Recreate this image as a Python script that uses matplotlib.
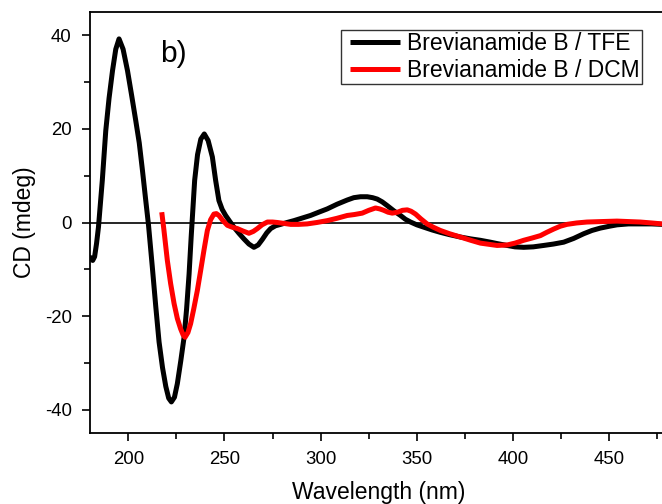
import numpy as np
import matplotlib
matplotlib.use('Agg')
import matplotlib.pyplot as plt
from matplotlib.ticker import MultipleLocator
from matplotlib.lines import Line2D
from matplotlib.legend_handler import HandlerLine2D

plt.rcParams['font.family'] = ['Liberation Sans', 'DejaVu Sans']
plt.rcParams['axes.unicode_minus'] = False

# Brevianamide B in TFE (black)
tfe_wl = [180.5, 181.5, 182.5, 183.5, 184.5, 186.5, 188.3, 190, 191.8, 193.5,
          195.2, 197.3, 199.6, 201.8, 203.9, 205.7, 207.4, 209, 210.5, 212.6,
          214.3, 216, 217.8, 219.5, 221, 222.4, 224, 225.5, 227.3, 229,
          230.3, 231.6, 232.7, 233.6, 234.5, 236, 237.7, 239.5, 241.5, 243.7,
          245.4, 247.1, 248.8, 250.6, 252.8, 254.9, 257.5, 260.1, 262.7, 265.3,
          267.5, 269.7, 272, 274, 276.5, 279.2, 282.5, 286.1, 290, 294.7,
          299, 303.4, 308.5, 313.8, 317.2, 320.7, 324.2, 327, 329.4, 332,
          334.6, 338, 341.5, 344, 346.7, 350, 353.6, 358, 362.2, 367,
          372.6, 378, 383, 388.2, 391.7, 396.9, 401, 405.5, 410.5, 415.9,
          421, 426.3, 431.5, 436.7, 441, 445.3, 450, 454, 460, 466.1,
          472, 477.4, 480]
tfe_cd = [-7.5, -8.1, -7.3, -4.5, -1.0, 9.0, 19.6, 26.5, 32.4, 37.0,
          39.2, 37.0, 32.4, 27.0, 21.7, 17.0, 11.0, 5.0, -0.5, -10.0,
          -18.0, -25.5, -31.0, -35.0, -37.5, -38.3, -37.3, -34.4, -29.5, -24.5,
          -18.5, -11.0, -3.0, 3.0, 9.0, 14.5, 17.8, 18.9, 17.5, 14.0,
          9.0, 4.7, 2.8, 1.5, 0.2, -1.0, -2.3, -3.5, -4.6, -5.3,
          -4.8, -3.6, -2.2, -1.3, -0.7, -0.4, 0.0, 0.4, 0.9, 1.5,
          2.2, 2.9, 3.9, 4.8, 5.3, 5.5, 5.5, 5.3, 5.0, 4.4,
          3.6, 2.5, 1.5, 0.7, 0.1, -0.5, -1.0, -1.6, -2.1, -2.6,
          -3.1, -3.5, -3.8, -4.2, -4.5, -4.9, -5.2, -5.3, -5.2, -4.9,
          -4.6, -4.2, -3.4, -2.4, -1.7, -1.2, -0.8, -0.5, -0.3, -0.3,
          -0.3, -0.4, -0.4]

# Brevianamide B in DCM (red)
dcm_wl = [217.4, 218.5, 220.3, 222, 223.8, 225.5, 227.2, 228.5, 229.5, 231,
          232.4, 234, 235.9, 237.6, 239.3, 241.1, 242.8, 244.5, 245.8, 247.1,
          249, 251.5, 254, 256.7, 259.5, 262.7, 265, 267.1, 269.5, 272.3,
          275, 277.5, 281, 284.4, 288.5, 293, 298, 303.4, 308.5, 313.8,
          317.5, 321.6, 325, 328.5, 330.7, 332.8, 335, 337.2, 340, 342.5,
          345, 347, 349.3, 352, 355.3, 358.5, 362.2, 367, 372.6, 378,
          383, 388.2, 391.7, 396.9, 401, 405.5, 410, 414.2, 417.5, 421.1,
          424.5, 428, 433, 438.4, 446, 454, 460, 466.1, 472, 477.4, 480]
dcm_cd = [2.2, -1.5, -8.1, -13.0, -17.3, -20.5, -22.7, -24.0, -24.5, -23.5,
          -21.6, -18.5, -14.5, -10.3, -6.0, -1.7, 0.6, 1.8, 1.9, 1.5,
          0.5, -0.6, -1.0, -1.3, -1.8, -2.3, -1.9, -1.3, -0.5, 0.1,
          0.1, 0.0, -0.2, -0.4, -0.4, -0.3, 0.0, 0.4, 0.9, 1.5,
          1.7, 2.0, 2.6, 3.1, 2.9, 2.6, 2.2, 2.0, 2.2, 2.6,
          2.7, 2.4, 1.8, 0.8, -0.3, -1.0, -1.7, -2.4, -3.1, -3.8,
          -4.4, -4.7, -4.9, -4.8, -4.4, -3.8, -3.3, -2.8, -2.1, -1.4,
          -0.8, -0.4, -0.1, 0.1, 0.2, 0.3, 0.2, 0.1, -0.1, -0.3, -0.3]

fig = plt.figure(figsize=(6.62, 5.04), dpi=100)
ax = fig.add_axes([89.8/662, 1-433.3/504, 577.2/662, 421.6/504])

ax.axhline(0, color='black', lw=1.2, zorder=1)
ax.plot(tfe_wl, tfe_cd, color='black', lw=3.6, label='Brevianamide B / TFE',
        solid_capstyle='round', solid_joinstyle='round', zorder=2)
ax.plot(dcm_wl, dcm_cd, color='#ff0000', lw=3.6, label='Brevianamide B / DCM',
        solid_capstyle='butt', solid_joinstyle='round', zorder=3)

ax.set_xlim(180, 480)
ax.set_ylim(-45, 45)
ax.xaxis.set_major_locator(MultipleLocator(50))
ax.xaxis.set_minor_locator(MultipleLocator(25))
ax.yaxis.set_major_locator(MultipleLocator(20))
ax.yaxis.set_minor_locator(MultipleLocator(10))
ax.tick_params(which='both', direction='out', width=1.2, labelsize=13.4,
               top=False, right=False)
ax.tick_params(which='major', length=6, pad=7)
ax.tick_params(which='minor', length=4)
for s in ax.spines.values():
    s.set_linewidth(1.3)

ax.set_xlabel('Wavelength (nm)', fontsize=16.5, labelpad=9)
ax.set_ylabel('CD (mdeg)', fontsize=16.5, labelpad=6)

ax.text(0.1216, 0.881, 'b)', transform=ax.transAxes, fontsize=21.5,
        va='baseline', ha='left')

# xpad keeps a small gap between the frame and the legend lines
leg = ax.legend(loc='upper right', bbox_to_anchor=(0.9567, 0.9566),
                borderaxespad=0, fontsize=16.5, fancybox=False, framealpha=1,
                edgecolor='#333333', handlelength=2.5, handletextpad=0.3,
                labelspacing=0.15, borderpad=0.1,
                handler_map={Line2D: HandlerLine2D(xpad=0.3)})
leg.get_frame().set_linewidth(1.0)
for h in leg.get_lines():
    h.set_solid_capstyle('butt')

fig.savefig('out.png', dpi=100)
